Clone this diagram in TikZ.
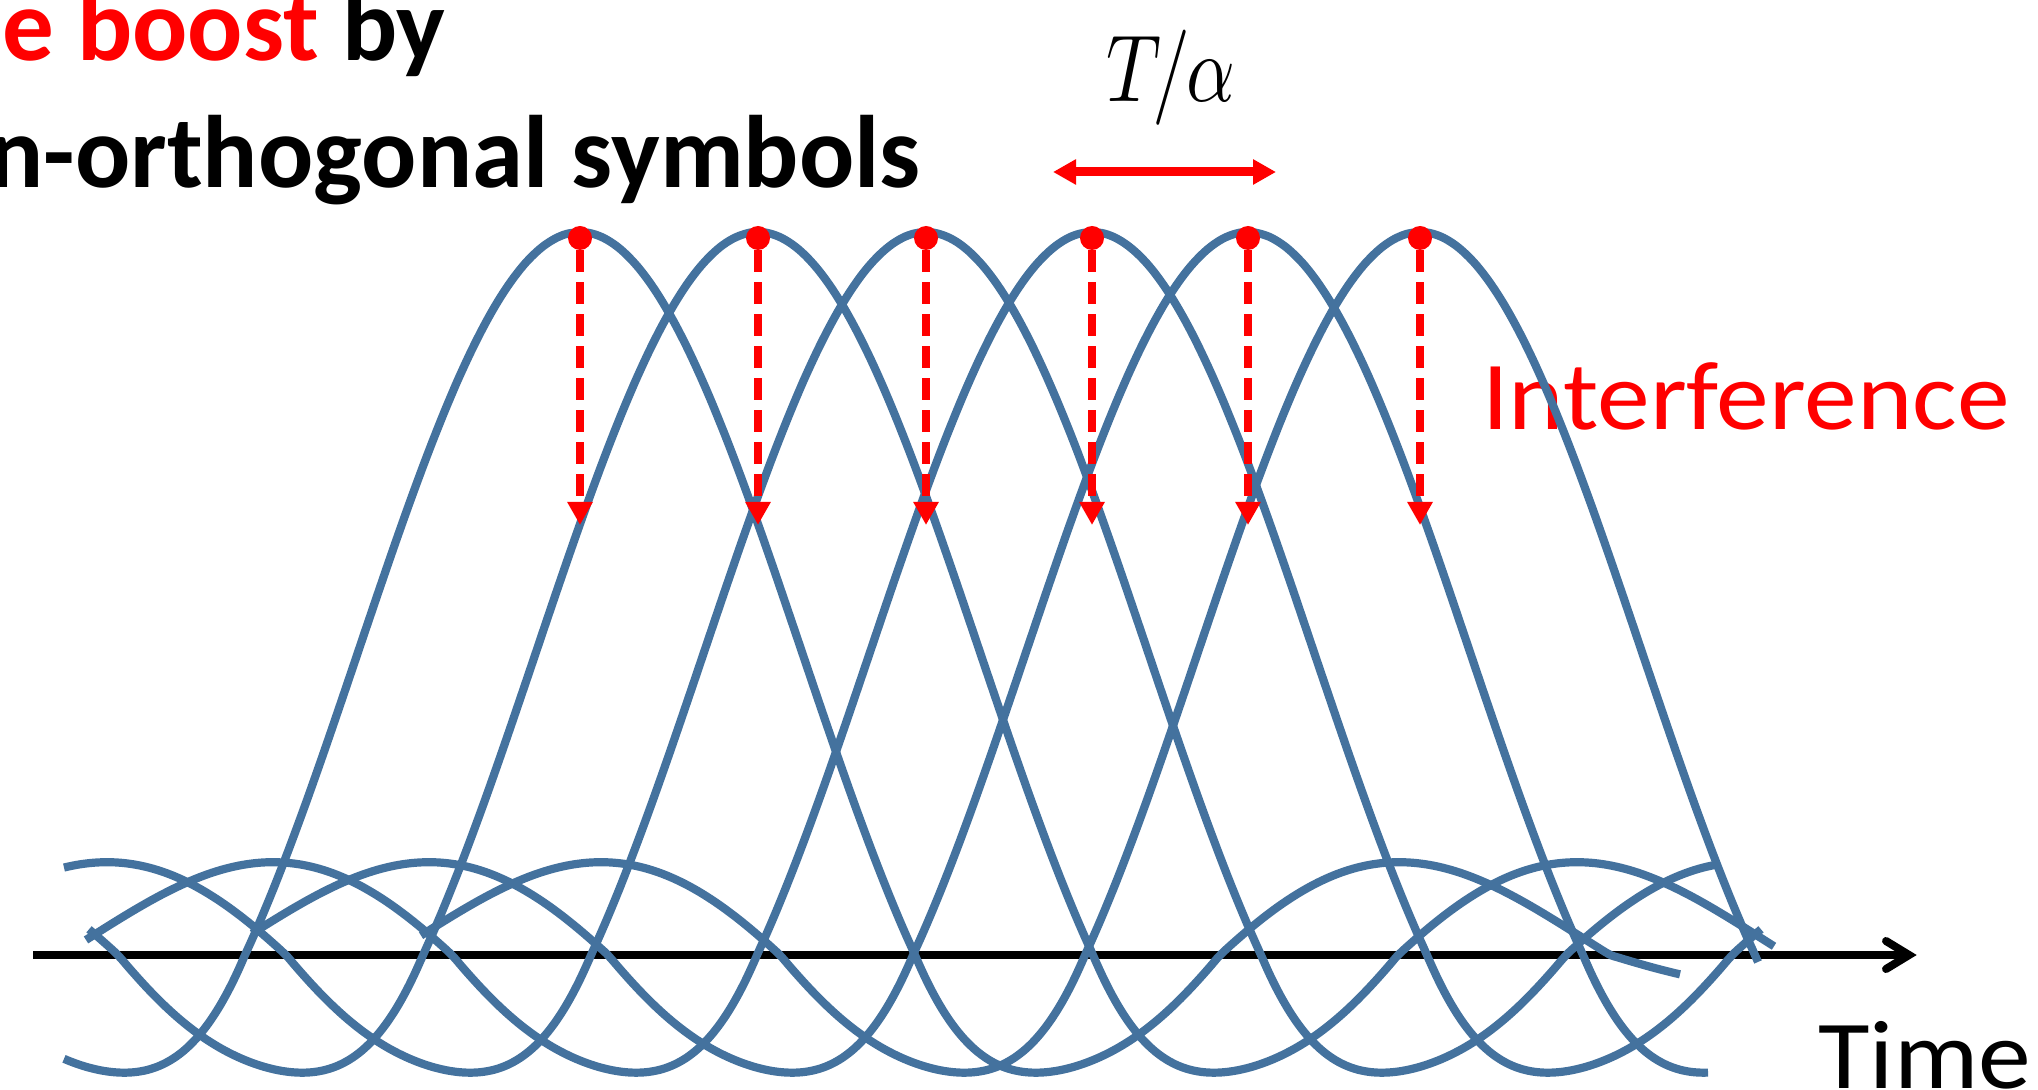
\documentclass[tikz,border=0pt]{standalone}
\usepackage{fontspec}
\setmainfont{Carlito}
\usetikzlibrary{arrows.meta}
\definecolor{pblue}{RGB}{68,114,158}
\tikzset{
  pulse/.style={draw=pblue, line width=4.1pt},
  dot/.style={circle, fill=red, inner sep=0pt, minimum size=12pt},
  dasharr/.style={draw=red, line width=4pt, dash pattern=on 11pt off 5pt, -{Triangle[length=11.5pt,width=12pt]}},
  redarr/.style={draw=red, line width=4.5pt, {Triangle[length=11.5pt,width=12pt]}-{Triangle[length=11.5pt,width=12pt]}},
  axisline/.style={draw=black, line width=4pt},
  titlefont/.style={font=\fontsize{51.5}{60}\selectfont\bfseries, inner sep=0pt},
  labfont/.style={font=\fontsize{48.75}{58}\selectfont, inner sep=0pt}
}
\begin{document}
\begin{tikzpicture}[x=0.5pt,y=-0.5pt,
  declare function={
    wrp(\q)=(\q<335)*\q/335+(1-(\q<335))*(\q<640)*(1+(\q-335)/305)+(1-(\q<640))*(2+(\q-640)/390);
    snc(\u)=sin(180*max(\u,0.01))/(pi*max(\u,0.01));
    gg(\u)=1-0.26*(\u>1)*(\u<2)*sin(180*(\u-1))-0.5*(\u>3);
    pf(\q)=snc(wrp(abs(\q)))*gg(wrp(abs(\q)));
  }]
\useasboundingbox (0,0) rectangle (2038,1090);
\clip (0,0) rectangle (2038,1090);

% axis
\coordinate (ax0) at (33,955);
\coordinate (ax1) at (1909,955);
\coordinate (bu) at (1886,941);
\coordinate (bd) at (1886,969);
\draw[axisline] (ax0) -- (ax1);
\draw[axisline, line cap=round, line join=miter] (bu) -- (ax1) -- (bd);

% texts
\node[titlefont, anchor=base east] (title1) at (446,61) {\textcolor{red}{e boost} by};
\node[titlefont, anchor=base east] (title2) at (921,188) {n-orthogonal symbols};
\node[labfont, text=red, anchor=base east] (intf) at (2010,430) {\scalebox{1.083}[1]{Interference}};
\node[labfont, anchor=base west] (time) at (1818,1088) {\scalebox{1.083}[1]{Time}};
\node[inner sep=0pt, anchor=base] (tal) at (1171,102) {\scalebox{3.8}[4.76]{$T\mkern-2mu/\mkern-1mu\alpha$}};

% pulses
\foreach \P/\a/\b in {580/64/1680, 758/89/1774, 926/64/1715, 1092/86/1761, 1248/252/1708, 1420/421/1758}
  \draw[pulse] plot[domain=\a:\b, samples=260, smooth, variable=\x] (\x,{955-723*pf(\x-\P)});

% spacing arrow
\coordinate (al) at (1053,172);
\coordinate (ar) at (1276,172);
\draw[redarr] (al) -- (ar);

% sampling points and interference arrows
\foreach \i/\px in {1/580,2/758,3/926,4/1092,5/1248,6/1420} {
  \coordinate (tip\i) at (\px,525);
  \node[dot] (dot\i) at (\px,238) {};
  \draw[dasharr] (dot\i) -- (tip\i);
}
\end{tikzpicture}
\end{document}
